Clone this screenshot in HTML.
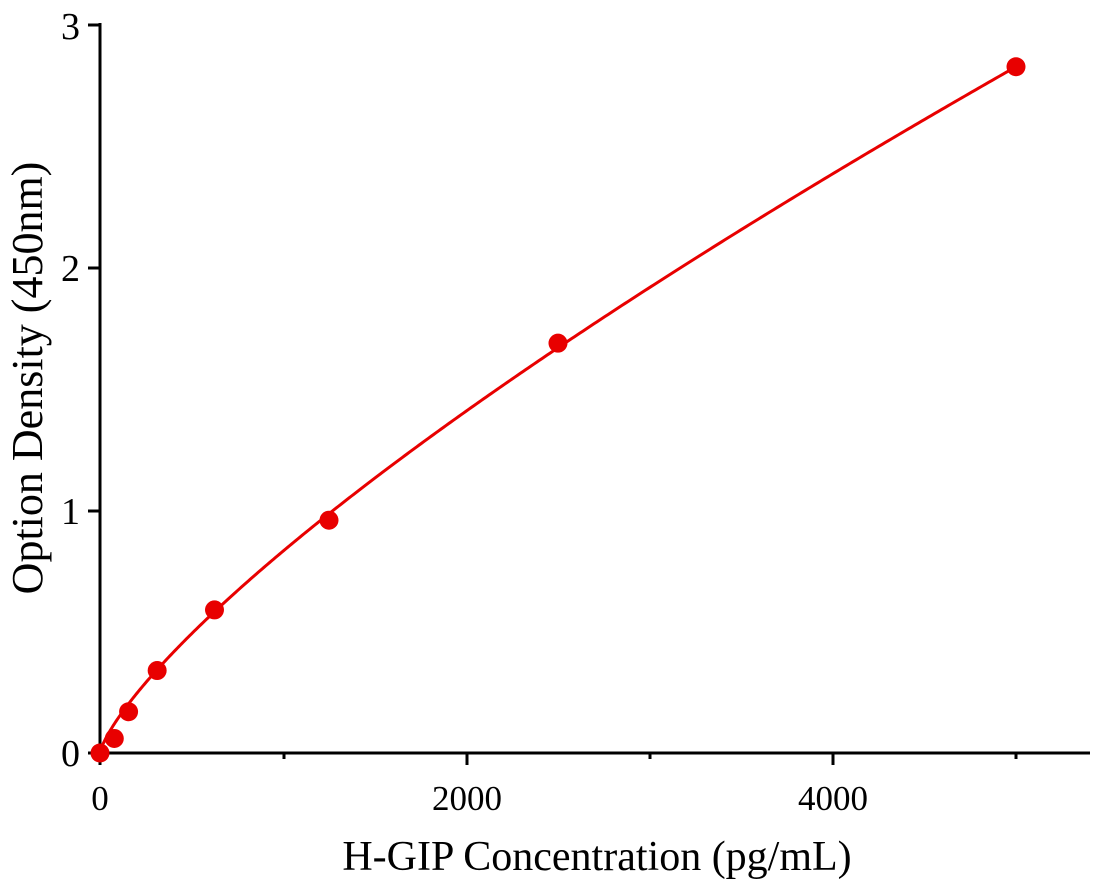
<!DOCTYPE html>
<html><head><style>
html,body{margin:0;padding:0;background:#fff;}
svg{display:block;font-family:"Liberation Serif",serif;}
</style></head><body>
<svg id="s" width="1101" height="890" viewBox="0 0 1101 890">
<g stroke="#000" stroke-width="3" fill="none">
<line x1="100" y1="23" x2="100" y2="754"/>
<line x1="99" y1="753" x2="1090" y2="753"/>
<line x1="88" y1="753" x2="100" y2="753"/>
<line x1="88" y1="511" x2="100" y2="511"/>
<line x1="88" y1="268" x2="100" y2="268"/>
<line x1="88" y1="25" x2="100" y2="25"/>
<line x1="100" y1="753" x2="100" y2="765"/>
<line x1="467" y1="753" x2="467" y2="765"/>
<line x1="833" y1="753" x2="833" y2="765"/>
<line x1="284" y1="753" x2="284" y2="759"/>
<line x1="650" y1="753" x2="650" y2="759"/>
<line x1="1016" y1="753" x2="1016" y2="759"/>
</g>
<g font-size="38" text-anchor="end">
<text x="80" y="766">0</text>
<text x="80" y="524">1</text>
<text x="80" y="281">2</text>
<text x="80" y="39">3</text>
</g>
<g font-size="35" text-anchor="middle">
<text x="100" y="810">0</text>
<text x="467" y="810">2000</text>
<text x="833" y="810">4000</text>
</g>
<text x="597" y="870" font-size="42" text-anchor="middle">H-GIP Concentration (pg/mL)</text>
<text transform="translate(42,378) rotate(-90)" font-size="44" text-anchor="middle">Option Density (450nm)</text>
<path id="c" fill="none" stroke="#e80000" stroke-width="3"/>
<g id="p" fill="#e80000"></g>
</svg>
<script>
function X(v){return 100+v*0.1832;}
function Y(v){return 753-v*242.5;}
var b=0.76,a=2.83/Math.pow(5000,b);
var d="";
for(var i=0;i<=400;i++){var x=5000*Math.pow(i/400,1.5);d+=(i?"L":"M")+X(x).toFixed(2)+","+Y(a*Math.pow(x,b)).toFixed(2);}
document.getElementById("c").setAttribute("d",d);
var pts=[[0,0],[78,0.06],[156,0.17],[312,0.34],[625,0.59],[1250,0.96],[2500,1.69],[5000,2.83]];
var h="";
pts.forEach(function(q){h+='<circle cx="'+X(q[0])+'" cy="'+Y(q[1])+'" r="9.5"/>';});
document.getElementById("p").innerHTML=h;
</script>
</body></html>
